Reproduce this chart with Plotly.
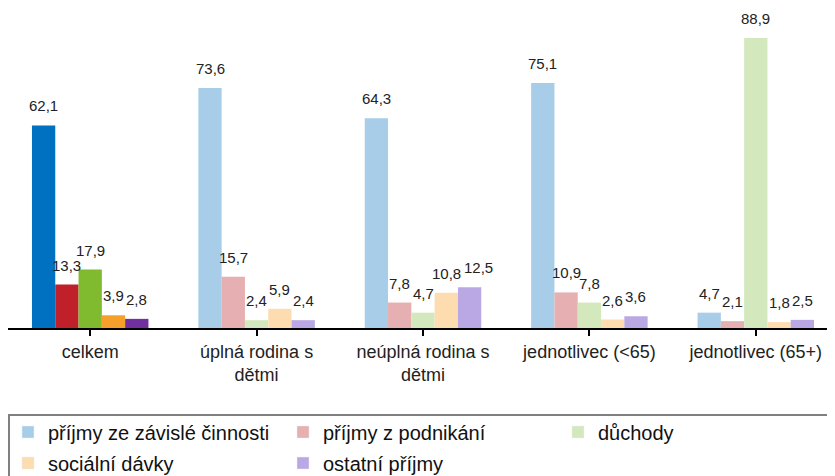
import plotly.graph_objects as go

# categories + series values (procenta)
categories = ['celkem', 'úplná rodina s<br>dětmi', 'neúplná rodina s<br>dětmi',
              'jednotlivec (<65)', 'jednotlivec (65+)']
series_names = ['příjmy ze závislé činnosti', 'příjmy z podnikání', 'důchody',
                'sociální dávky', 'ostatní příjmy']
zavisla = [62.1, 73.6, 64.3, 75.1, 4.7]
podnikani = [13.3, 15.7, 7.8, 10.9, 2.1]
duchody = [17.9, 2.4, 4.7, 7.8, 88.9]
davky = [3.9, 5.9, 10.8, 2.6, 1.8]
ostatni = [2.8, 2.4, 12.5, 3.6, 2.5]

values = [zavisla, podnikani, duchody, davky, ostatni]
# first colour = celkem (syte), rest = ostatni skupiny (svetle)
strong = ['#0070C0', '#C0202A', '#7FBA2F', '#F5A02A', '#7030A0']
pale = ['#A7CDE9', '#E6AFB1', '#D4E8BE', '#FDDCB0', '#B9A8E4']

bargap = 0.30
nser = len(values)
slot = (1 - bargap) / nser
FONT = 'Liberation Sans, Arial'
LBL = 15            # velikost popisku
px_cat = 166.4      # px na kategorii
px_val = 3.262      # px na jednotku osy y


def lbl_w(s):
    return sum(0.28 if ch == ',' else 0.556 for ch in s) * LBL


fig = go.Figure()
annots = []
for j, (name, vals, c1, c2) in enumerate(zip(series_names, values, strong, pale)):
    fig.add_trace(go.Bar(
        x=list(range(len(categories))), y=vals, name=name,
        marker=dict(color=[c1] + [c2] * (len(vals) - 1), line=dict(width=0)),
        showlegend=False, hoverinfo='y',
    ))

# popisky hodnot nad sloupci (posun doprava kdyz by se prekryvaly)
for i in range(len(categories)):
    prev_right, prev_y = None, None
    for j in range(nser):
        v = values[j][i]
        s = f'{v:.1f}'.replace('.', ',')
        w = lbl_w(s)
        cx = (j - (nser - 1) / 2) * slot * px_cat
        shift = 0
        if prev_right is not None and abs(v - prev_y) * px_val < 8:
            over = prev_right - (cx - w / 2)
            if over > 0:
                shift = over + 3
        prev_right, prev_y = cx + shift + w / 2, v
        annots.append(dict(
            x=i + (j - (nser - 1) / 2) * slot, y=v, xref='x', yref='y',
            text=s, showarrow=False, yanchor='bottom', yshift=9, xshift=shift,
            font=dict(family=FONT, size=LBL, color='#222222')))

# legenda: 2 radky (legend, legend2), skryta osa aby nebraly misto sloupcum
for k, (name, c2) in enumerate(zip(series_names, pale)):
    fig.add_trace(go.Bar(x=[None], y=[None], name=name, marker_color=c2,
                         xaxis='x2', yaxis='y2',
                         legend='legend' if k < 3 else 'legend2'))

leg = dict(orientation='h', x=0.0, xanchor='left', yanchor='middle',
           entrywidth=230, font=dict(family=FONT, size=20, color='#111111'),
           bgcolor='rgba(0,0,0,0)')

# body stranky ma okraj 8 px -> figura je o 8 px mensi
fig.update_layout(
    width=827, height=468,
    margin=dict(l=0, r=0, t=0, b=148, autoexpand=False),
    plot_bgcolor='white', paper_bgcolor='white',
    barmode='group', bargap=bargap, bargroupgap=0,
    font=dict(family=FONT, size=18, color='#222222'),
    xaxis=dict(range=[-0.494, 4.476], showline=True, linecolor='black', linewidth=2,
               tickmode='array', tickvals=list(range(len(categories))),
               ticktext=categories,
               ticks='outside', tickson='boundaries', ticklen=6, tickwidth=2,
               tickcolor='black', tickfont=dict(size=18)),
    yaxis=dict(range=[0, 98.1], visible=False),
    xaxis2=dict(visible=False, overlaying='x'),
    yaxis2=dict(visible=False, overlaying='y'),
    legend=dict(leg, y=-0.325),
    legend2=dict(leg, y=-0.422),
    annotations=annots,
    shapes=[dict(type='rect', xref='paper', yref='paper', x0=0.0012, x1=1.02,
                 y0=-0.6, y1=-0.272, line=dict(color='#808080', width=2))],
)

fig.write_html("out.html")
